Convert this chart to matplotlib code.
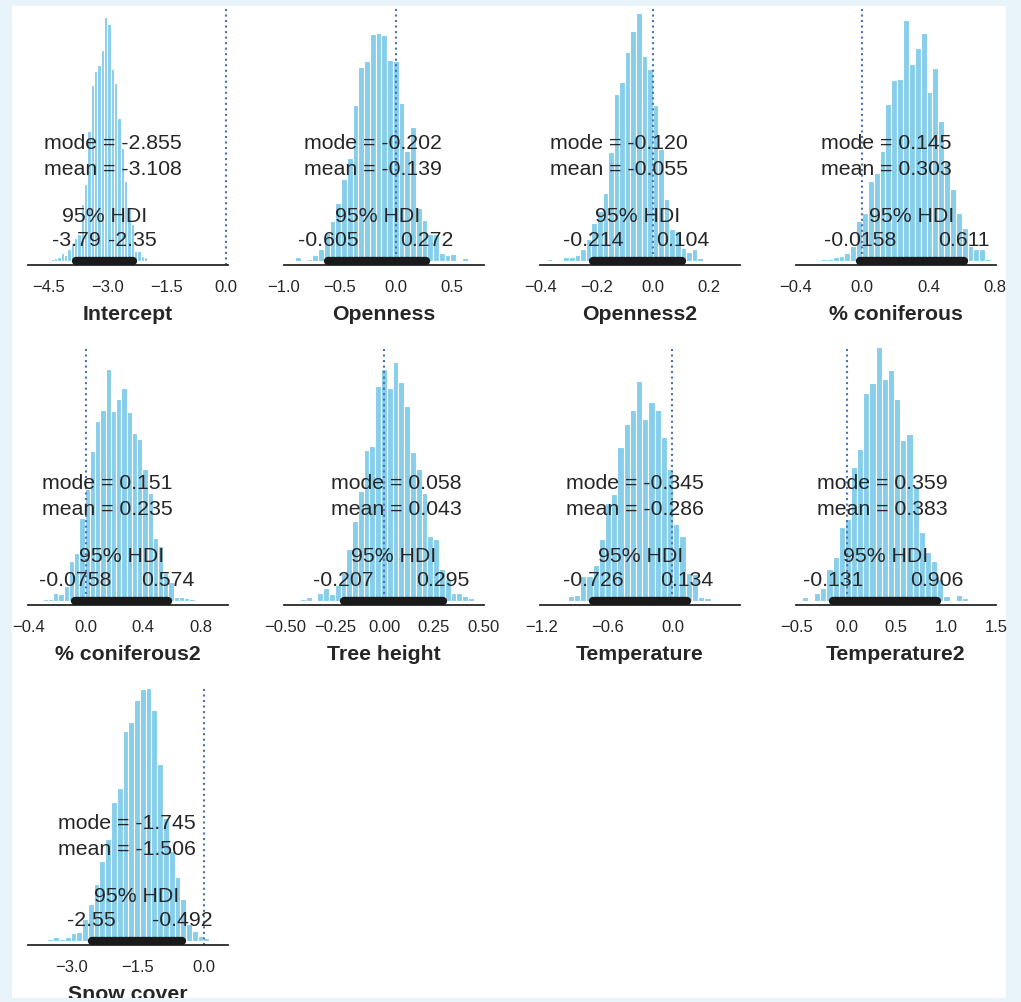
import matplotlib
matplotlib.use("Agg")
import matplotlib.pyplot as plt
import matplotlib.transforms as mtransforms
from matplotlib.patches import Rectangle
import numpy as np

# Parameter names, in panel order.
names = ["Intercept", "Openness", "Openness2", "% coniferous", "% coniferous2",
         "Tree height", "Temperature", "Temperature2", "Snow cover"]

# Summary numbers printed on each panel.
modes = [-2.855, -0.202, -0.120, 0.145, 0.151, 0.058, -0.345, 0.359, -1.745]
means = [-3.108, -0.139, -0.055, 0.303, 0.235, 0.043, -0.286, 0.383, -1.506]
hdi_low = [-3.79, -0.605, -0.214, -0.0158, -0.0758, -0.207, -0.726, -0.131, -2.55]
hdi_high = [-2.35, 0.272, 0.104, 0.611, 0.574, 0.295, 0.134, 0.906, -0.492]

# Range of the 30 histogram bins of each posterior sample.
bin_lo = [-4.52, -0.90, -0.378, -0.285, -0.303, -0.427, -1.188, -0.45, -3.68]
bin_hi = [-1.98, 0.64, 0.217, 0.776, 0.797, 0.451, 0.52, 1.406, 0.25]

# Bar heights (arbitrary units, same for all panels).
counts = [
    [0.7, 1.7, 2.7, 3.3, 7.3, 6, 11.7, 18, 23, 27, 57, 77, 130, 176, 190,
     196, 211, 244, 237, 192, 178, 143, 113, 80, 53, 37, 10, 10, 5, 4],
    [3.3, 1, 1.7, 5.7, 11.7, 28, 40, 57.7, 82, 103, 156, 194, 200, 227, 228,
     226, 201, 200, 158, 110, 134, 53, 41, 27, 27, 8, 5.7, 6.3, 1, 2.7],
    [1.7, 0, 0, 4, 4, 6, 12, 22, 38, 50, 68, 109, 167, 179, 209,
     230, 248, 205, 192, 156, 112, 62, 32, 30, 13, 9, 12, 3, 1, 0.5],
    [0.7, 1.7, 1.7, 3.3, 5, 8, 15, 40, 48, 80, 88, 110, 157, 181, 182,
     241, 197, 213, 228, 169, 193, 140, 100, 72, 48, 33, 15, 12, 12, 2],
    [1.5, 1.5, 7.7, 6.7, 15, 40, 48, 83, 112, 150, 180, 191, 232, 190, 202,
     213, 189, 168, 162, 132, 108, 63, 55, 28, 19, 4, 4, 3, 1.7, 0.7],
    [1.7, 4, 1, 7.7, 13, 6.7, 15.7, 28, 52, 80, 110, 151, 155, 215, 232,
     213, 239, 219, 195, 149, 132, 108, 65, 62, 32, 22, 7.7, 7.7, 5, 3],
    [0.7, 0, 0.7, 1, 4.3, 5.7, 25, 25, 36, 62, 98, 107, 154, 177, 191,
     220, 182, 199, 191, 164, 132, 77, 65, 28, 27, 3.3, 2.3, 1, 0, 0.7],
    [4, 0.7, 7.7, 13, 32, 44, 74, 82, 134, 152, 208, 218, 254, 222, 231,
     202, 161, 167, 115, 69, 49, 40, 22, 4.3, 0, 5.7, 2.3, 1, 1, 0.5],
    [0.7, 1.7, 3.3, 1.7, 3.3, 7.3, 8.3, 22, 37, 57, 80, 102, 139, 153, 210,
     219, 241, 252, 253, 231, 177, 123, 90, 64, 42, 17, 10, 5, 2.3, 1],
]

x_ticks = [
    [-4.5, -3.0, -1.5, 0.0],
    [-1.0, -0.5, 0.0, 0.5],
    [-0.4, -0.2, 0.0, 0.2],
    [-0.4, 0.0, 0.4, 0.8],
    [-0.4, 0.0, 0.4, 0.8],
    [-0.50, -0.25, 0.00, 0.25, 0.50],
    [-1.2, -0.6, 0.0],
    [-0.5, 0.0, 0.5, 1.0, 1.5],
    [-3.0, -1.5, 0.0],
]
x_lims = [(-5.01, 0.063), (-0.991, 0.786), (-0.402, 0.309), (-0.40, 0.806),
          (-0.405, 0.993), (-0.508, 0.503), (-1.216, 0.62), (-0.507, 1.483),
          (-3.99, 0.544)]
comp_val = 0.0

W, H = 1021, 1003
page_blue = "#e8f3fa"
text_color = "#262626"

plt.rcParams["font.family"] = ["Liberation Sans", "DejaVu Sans"]
plt.rcParams["text.color"] = text_color
plt.rcParams["axes.labelcolor"] = text_color
plt.rcParams["xtick.color"] = text_color

fig, axes = plt.subplots(3, 4, figsize=(W / 100, H / 100), dpi=100)
fig.patch.set_facecolor(page_blue)
fig.subplots_adjust(left=28 / W, right=996 / W, top=1 - 7 / H,
                    bottom=1 - 945.7 / H, wspace=56 / 200, hspace=81.3 / 258.7)

# White page area behind the plots.
fig.add_artist(Rectangle((12 / W, 1 - 999 / H), 994 / W, 992 / H,
                         transform=fig.transFigure, facecolor="white",
                         edgecolor="none", zorder=-1))

for i, ax in enumerate(axes.flat):
    if i >= len(names):
        ax.set_axis_off()
        continue

    ax.set_facecolor("none")
    edges = np.linspace(bin_lo[i], bin_hi[i], len(counts[i]) + 1)
    ax.bar(edges[:-1], counts[i], width=np.diff(edges), align="edge",
           color="#87ceeb", edgecolor="white", linewidth=0.8, zorder=1)

    # Comparison value.
    ax.axvline(comp_val, color="#4c72b0", linestyle=":", linewidth=1.5, zorder=2)

    # HDI bar.
    ax.plot([hdi_low[i], hdi_high[i]], [0, 0], color="#1a1a1a", linewidth=6,
            solid_capstyle="round", zorder=3)

    trans = mtransforms.blended_transform_factory(ax.transData, ax.transAxes)
    ax.text(modes[i], 0.421, "mode = %.3f\nmean = %.3f" % (modes[i], means[i]),
            transform=trans, ha="center", va="center", fontsize=15.3,
            linespacing=1.45, zorder=4)
    ax.text((hdi_low[i] + hdi_high[i]) / 2, 0.192, "95% HDI", transform=trans,
            ha="center", va="center", fontsize=15.3, zorder=4)
    ax.text(hdi_low[i], 0.099, "%.3g" % hdi_low[i], transform=trans,
            ha="center", va="center", fontsize=15.3, zorder=4)
    ax.text(hdi_high[i], 0.099, "%.3g" % hdi_high[i], transform=trans,
            ha="center", va="center", fontsize=15.3, zorder=4)

    ax.set_xlim(x_lims[i])
    ax.set_ylim(-4, 254.7)
    ax.set_xticks(x_ticks[i])
    ax.set_yticks([])
    ax.tick_params(axis="x", length=0, pad=10.2, labelsize=12)
    ax.set_xlabel(names[i], fontsize=15.3, fontweight="bold", labelpad=7.3)

    for side in ["left", "top", "right"]:
        ax.spines[side].set_visible(False)
    ax.spines["bottom"].set_color(text_color)
    ax.spines["bottom"].set_linewidth(1.3)

# The page cuts the last row's label off at the bottom.
fig.add_artist(Rectangle((0, 0), 1, 4 / H, transform=fig.transFigure,
                         facecolor=page_blue, edgecolor="none", zorder=10))

fig.savefig("out.png", dpi=100, facecolor=page_blue)
